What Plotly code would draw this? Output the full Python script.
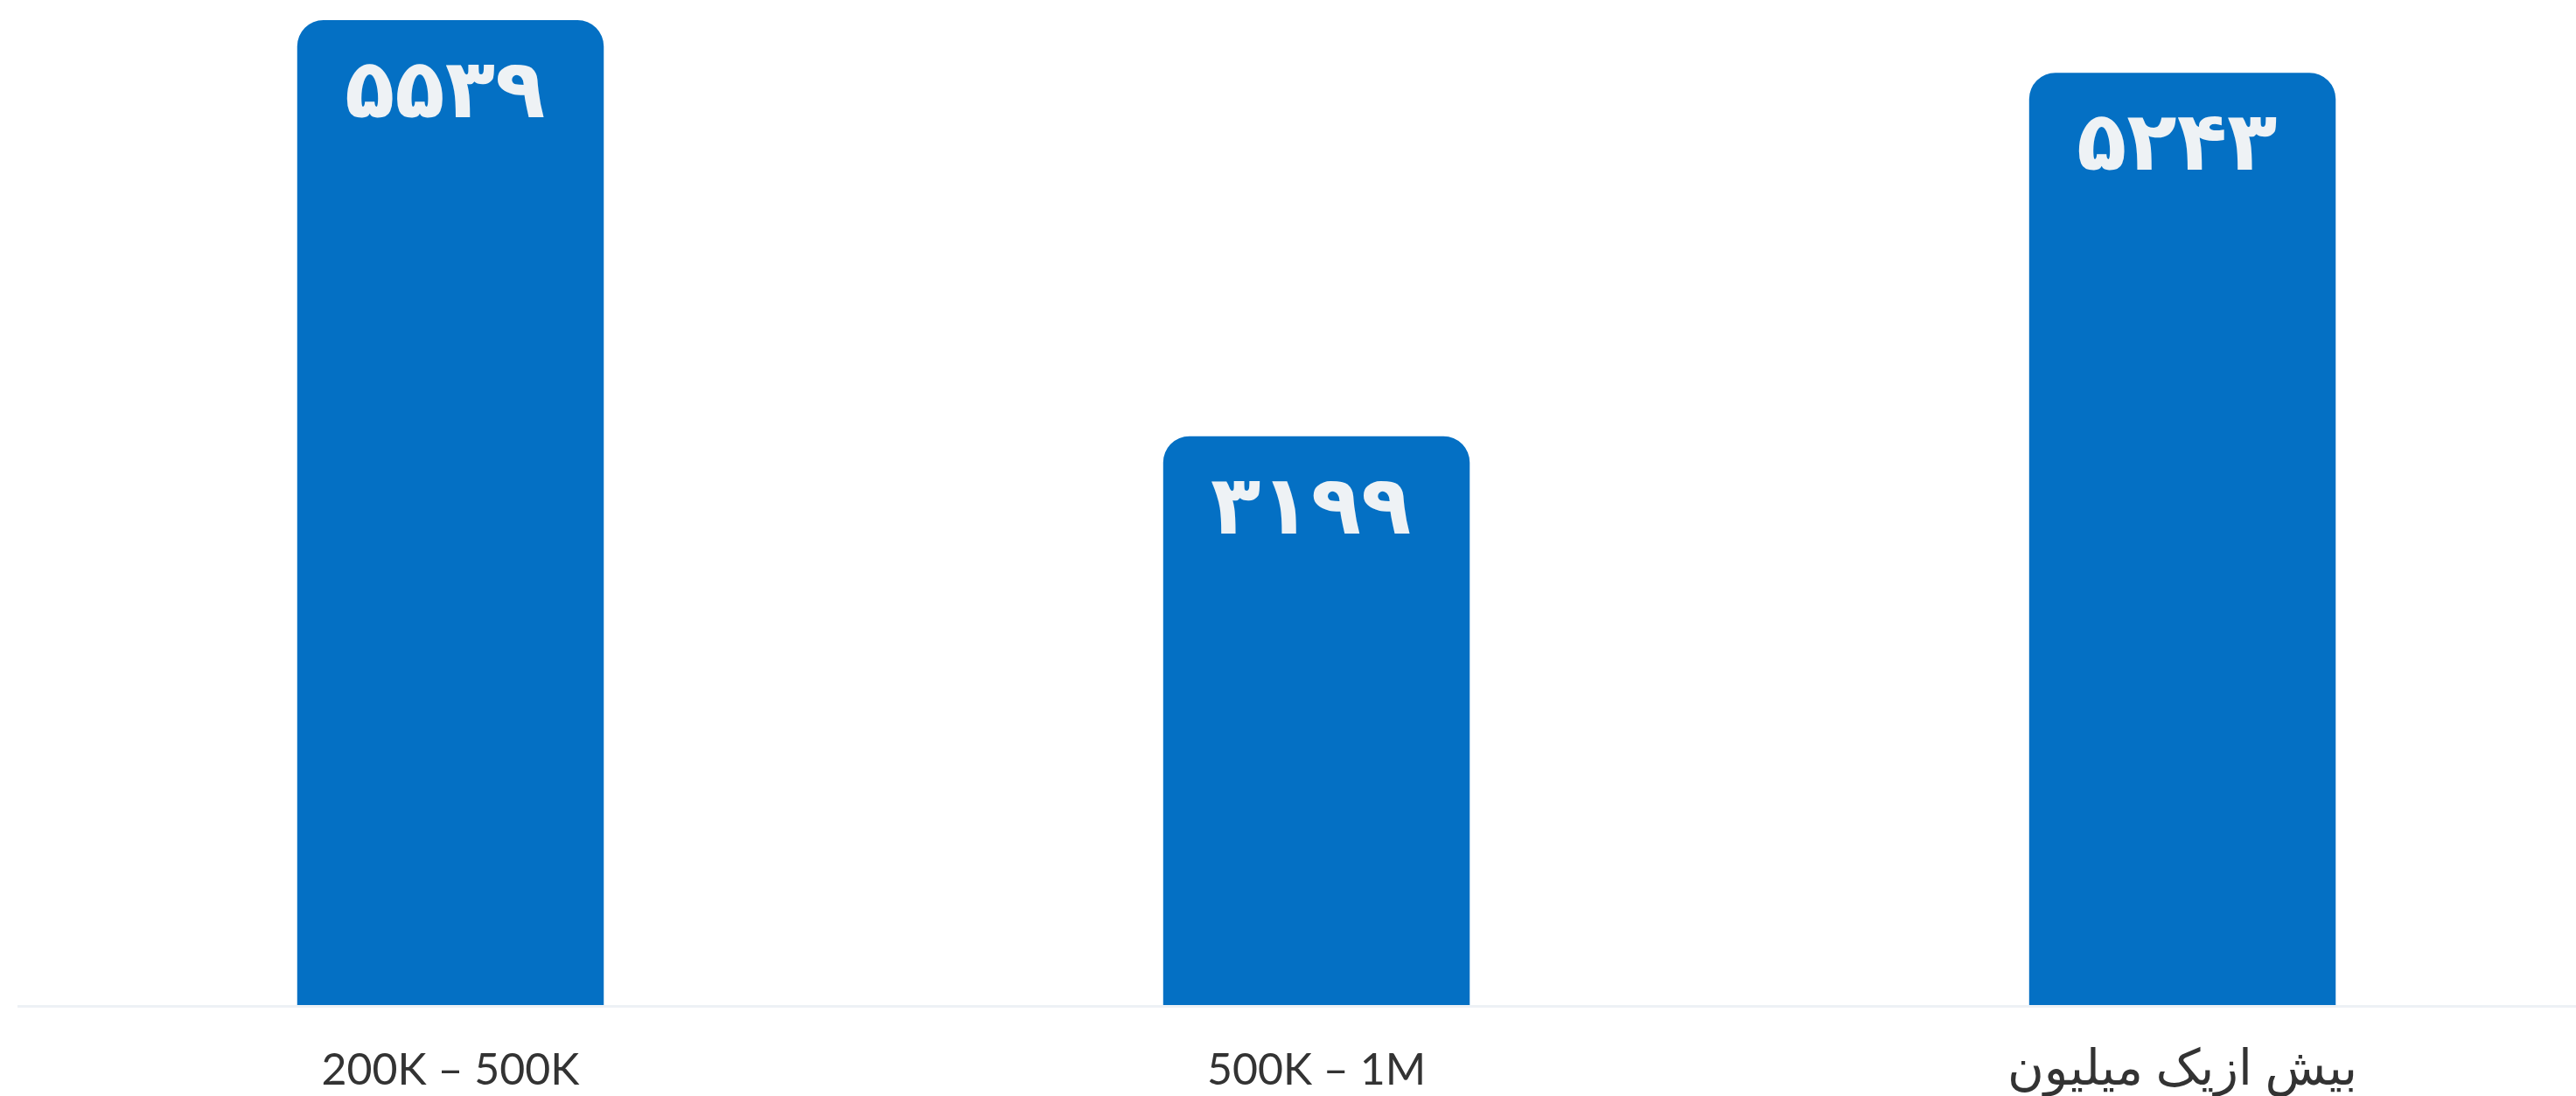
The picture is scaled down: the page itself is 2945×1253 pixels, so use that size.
import plotly.graph_objects as go

# Income brackets and number of people in each
categories = ["200K – 500K", "500K – 1M", "بیش ازیک میلیون"]
counts = [5539, 3199, 5243]

BAR_COLOR = "#0470C4"
LABEL_COLOR = "#EEF2F5"

persian_digits = str.maketrans("0123456789", "۰۱۲۳۴۵۶۷۸۹")


def to_persian(n):
    return str(n).translate(persian_digits)


def tick_label(text):
    # Persian script renders a little small next to Lato, so enlarge it
    if any("\u0600" <= ch <= "\u06ff" for ch in text):
        return f"<span style='font-size:57px'>{text}</span>"
    return text


x_pos = list(range(len(categories)))

fig = go.Figure(
    go.Bar(
        x=x_pos,
        y=counts,
        width=0.354,
        marker=dict(color=BAR_COLOR, line=dict(width=0)),
        hoverinfo="skip",
    )
)

# Value labels at the top inside each bar
for xi, v in zip(x_pos, counts):
    fig.add_annotation(
        x=xi, y=v, xref="x", yref="y",
        text=to_persian(v),
        showarrow=False,
        yanchor="top", xanchor="center",
        yshift=-22, xshift=-6,
        font=dict(family="DejaVu Sans", size=94, color=LABEL_COLOR, weight="bold"),
    )

fig.update_layout(
    width=2945, height=1253,
    margin=dict(l=20, r=0, t=0, b=104),
    paper_bgcolor="white", plot_bgcolor="white",
    barcornerradius=30,
    showlegend=False,
    xaxis=dict(
        range=[-0.5, 2.4545],
        tickmode="array", tickvals=x_pos,
        ticktext=[tick_label(c) for c in categories],
        showgrid=False, zeroline=False, automargin=False,
        showline=True, linecolor="#EDF1F5", linewidth=3,
        ticks="", ticklabelstandoff=28,
        tickfont=dict(family="Lato, DejaVu Sans", size=50, color="#333333"),
    ),
    yaxis=dict(
        range=[0, 5652], visible=False, showgrid=False, zeroline=False,
        automargin=False,
    ),
)

fig.write_html("out.html")
